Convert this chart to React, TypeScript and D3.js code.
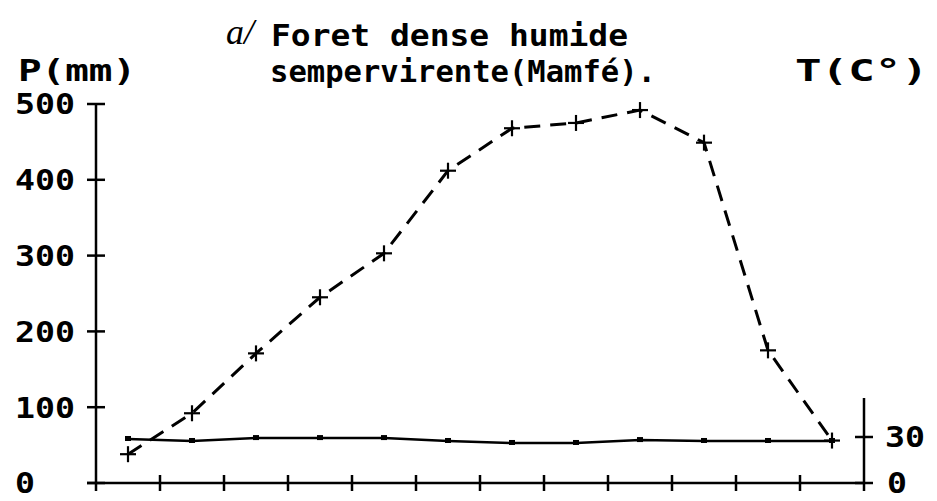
import React, { useEffect } from "react";
import * as d3 from "d3";

// monthly values (Mamfé)
const months = ["J", "F", "M", "A", "M", "J", "J", "A", "S", "O", "N", "D"];
const precip = [38, 92, 171, 245, 303, 412, 468, 475, 492, 449, 175, 56];
const temp = [28.7, 27.4, 29.3, 29.3, 29.3, 27.4, 26.1, 26.1, 28, 27.4, 27.4, 27.4];
const pTicks = [0, 100, 200, 300, 400, 500];
const tTicks = [0, 30];

const W = 937, H = 501;
const FONT = "'DejaVu Sans Mono', 'Liberation Mono', monospace";

const App = () => {
  useEffect(() => {
    document.body.style.margin = "0";
  }, []);

  // x: month boundaries 0..12, points sit in the middle of each month
  const x = d3.scaleLinear().domain([0, 12]).range([96, 864]);
  const yP = d3.scaleLinear().domain([0, 500]).range([483, 104]);
  const yT = d3.scaleLinear().domain([0, 30]).range([483, 437]);

  const pLine = d3.line<number>()
    .x((d, i) => x(i + 0.5))
    .y((d) => yP(d));
  const tLine = d3.line<number>()
    .x((d, i) => x(i + 0.5))
    .y((d) => yT(d));

  const bounds = d3.range(0, 13);

  return (
    <svg width={W} height={H} style={{ display: "block", background: "#fff" }}>
      {/* titles */}
      <text x={226} y={44} fontFamily="'Liberation Serif', serif" fontStyle="italic" fontSize={36}>a/</text>
      <g fontFamily={FONT} fontWeight="bold" fontSize={31} fill="#000">
        <text x={271} y={46} textLength={357} lengthAdjust="spacingAndGlyphs">Foret dense humide</text>
        <text x={270} y={82} textLength={386} lengthAdjust="spacingAndGlyphs">sempervirente(Mamfé).</text>
        <text x={18} y={81} textLength={118} lengthAdjust="spacingAndGlyphs">P(mm)</text>
        <text x={795} y={81} textLength={133} lengthAdjust="spacingAndGlyphs">T(C°)</text>
      </g>

      {/* left axis */}
      <g stroke="#000" strokeWidth={2.5}>
        <line x1={x(0)} x2={x(0)} y1={yP(500)} y2={yP(0) + 8} />
        {pTicks.map((t) => (
          <line key={t} x1={x(0) - 9} x2={x(0) + 9} y1={yP(t)} y2={yP(t)} />
        ))}
        {/* bottom axis */}
        <line x1={x(0) - 9} x2={x(12)} y1={yP(0)} y2={yP(0)} />
        {bounds.slice(1, 12).map((b) => (
          <line key={b} x1={x(b)} x2={x(b)} y1={yP(0) - 8} y2={yP(0) + 8} />
        ))}
        {/* right axis */}
        <line x1={x(12)} x2={x(12)} y1={398} y2={yP(0) + 8} />
        {tTicks.map((t) => (
          <line key={t} x1={x(12) - 9} x2={x(12) + 9} y1={yT(t)} y2={yT(t)} />
        ))}
      </g>
      <g fontFamily={FONT} fontWeight="bold" fontSize={29} fill="#000">
        {pTicks.map((t) => (
          <text key={t} x={15} y={yP(t)} dy="0.36em"
            textLength={String(t).length * 20} lengthAdjust="spacingAndGlyphs">{t}</text>
        ))}
        {tTicks.map((t) => (
          <text key={t} x={t === 0 ? 887 : 885} y={yT(t)} dy="0.36em"
            textLength={String(t).length * 20} lengthAdjust="spacingAndGlyphs">{t}</text>
        ))}
      </g>

      {/* temperature: solid line with small squares */}
      <path d={tLine(temp) || ""} fill="none" stroke="#000" strokeWidth={2.5} />
      {temp.map((d, i) => (
        <rect key={i} x={x(i + 0.5) - 3} y={yT(d) - 3} width={6} height={5} fill="#000" />
      ))}

      {/* precipitation: dashed line with + markers */}
      <path d={pLine(precip) || ""} fill="none" stroke="#000" strokeWidth={3}
        strokeDasharray="16 10" />
      {precip.map((d, i) => (
        <g key={i} stroke="#000" strokeWidth={2.2}>
          <line x1={x(i + 0.5) - 8} x2={x(i + 0.5) + 8} y1={yP(d)} y2={yP(d)} />
          <line x1={x(i + 0.5)} x2={x(i + 0.5)} y1={yP(d) - 8} y2={yP(d) + 8} />
        </g>
      ))}
    </svg>
  );
};

export default App;
